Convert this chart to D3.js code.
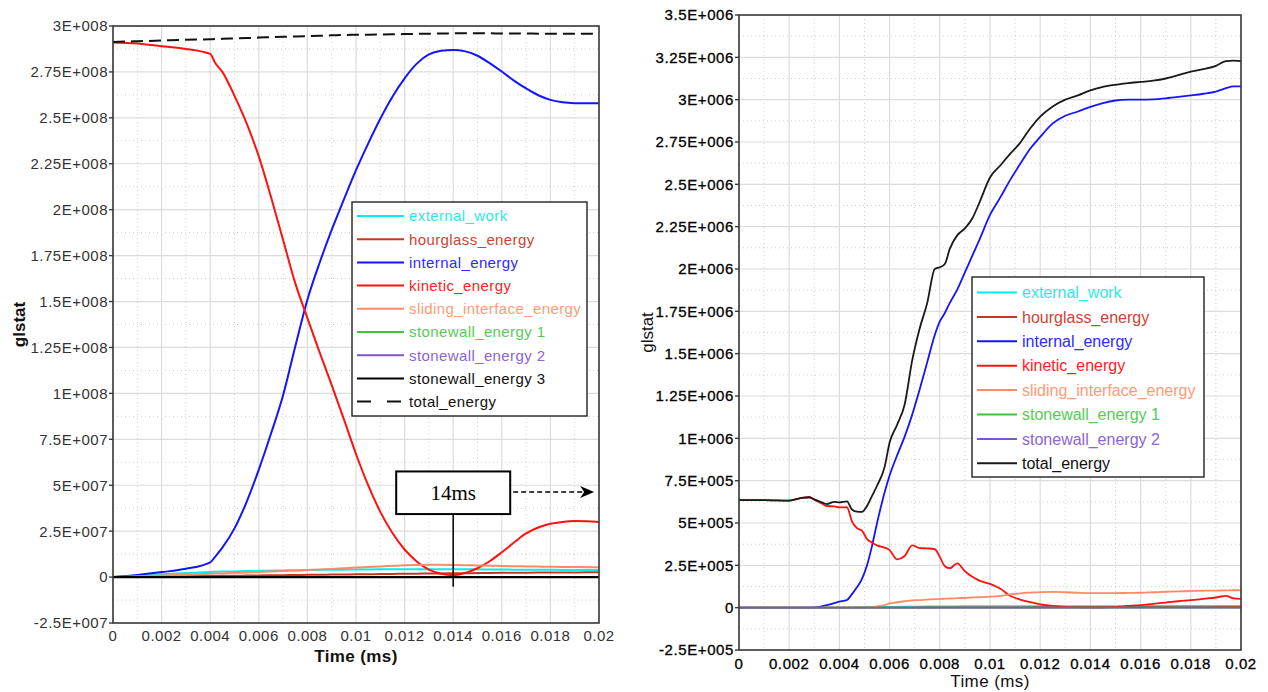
<!DOCTYPE html>
<html><head><meta charset="utf-8">
<script src="https://cdn.jsdelivr.net/npm/d3@7"></script>
<style>
html,body{margin:0;padding:0;background:#fff;}
svg{display:block;font-family:"Liberation Sans",Arial,sans-serif;}
</style></head>
<body><svg id="c" width="1268" height="692"></svg>
<script>
// ---------------- DATA ----------------
const seriesNames = ["external_work","hourglass_energy","internal_energy","kinetic_energy","sliding_interface_energy","stonewall_energy 1","stonewall_energy 2","stonewall_energy 3","total_energy"];
const seriesColors = ["#00eeee","#cc3322","#1414ff","#ff1111","#ff8a66","#44c044","#7a55cc","#000000","#111111"];
const legendTextColors = ["#33e6e6","#cc4433","#2b2bff","#ff2222","#ff9a77","#55cc55","#8a66d6","#111111","#111111"];

const timeEnds = [0, 0.02];
const yTicksLeft = [-2.5e7,0,2.5e7,5e7,7.5e7,1e8,1.25e8,1.5e8,1.75e8,2e8,2.25e8,2.5e8,2.75e8,3e8];
const yTickLabelsLeft = ["-2.5E+007","0","2.5E+007","5E+007","7.5E+007","1E+008","1.25E+008","1.5E+008","1.75E+008","2E+008","2.25E+008","2.5E+008","2.75E+008","3E+008"];
const yTicksRight = [-2.5e5,0,2.5e5,5e5,7.5e5,1e6,1.25e6,1.5e6,1.75e6,2e6,2.25e6,2.5e6,2.75e6,3e6,3.25e6,3.5e6];
const yTickLabelsRight = ["-2.5E+005","0","2.5E+005","5E+005","7.5E+005","1E+006","1.25E+006","1.5E+006","1.75E+006","2E+006","2.25E+006","2.5E+006","2.75E+006","3E+006","3.25E+006","3.5E+006"];
const xTicks = [0,0.002,0.004,0.006,0.008,0.01,0.012,0.014,0.016,0.018,0.02];
const xTickLabels = ["0","0.002","0.004","0.006","0.008","0.01","0.012","0.014","0.016","0.018","0.02"];

// Left chart (values in units of 1e6)
const timeL = [0,0.001,0.002,0.003,0.004,0.0042,0.0045,0.005,0.0055,0.006,0.0065,0.007,0.0075,0.008,0.0085,0.009,0.0095,0.01,0.0105,0.011,0.0115,0.012,0.0125,0.013,0.0135,0.014,0.0145,0.015,0.0155,0.016,0.0165,0.017,0.0175,0.018,0.0185,0.019,0.0195,0.02];
const externalL = [0,0.9,1.6,2.2,2.8,2.9,3.0,3.1,3.3,3.4,3.5,3.6,3.7,3.8,3.9,4.0,4.05,4.1,4.15,4.2,4.25,4.3,4.3,4.3,4.3,4.3,4.25,4.2,4.15,4.1,4.05,4.0,4.0,3.95,3.9,3.9,3.9,3.9];
const hourglassL = [0,0.15,0.3,0.45,0.6,0.63,0.68,0.75,0.82,0.9,0.97,1.05,1.12,1.2,1.27,1.35,1.42,1.5,1.57,1.65,1.72,1.8,1.86,1.93,2.0,2.06,2.12,2.18,2.24,2.3,2.35,2.4,2.44,2.48,2.52,2.55,2.58,2.6];
const internalL = [0,1.2,2.7,4.5,8,11,16,26.5,41,58.5,78,99,125.5,151,171,189,205.5,221.5,236,249.5,261.5,271.5,279.5,284.5,286.5,287,286.2,283.8,279.8,275.2,270.3,266,262.3,259.8,258.5,258,257.9,257.9];
const kineticL = [291,290.5,289,287.5,284.8,280,275,262,247,229,207,183.5,160,141,122.5,104.5,86,67,50,35.5,24,15,8.5,4,1.8,1,2.3,4.8,8.6,13.5,18.8,23.8,27,29,30,30.5,30.4,30];
const slidingL = [0,0.4,0.8,1.3,1.8,1.9,2.0,2.3,2.5,2.8,3.0,3.3,3.5,3.8,4.1,4.4,4.8,5.2,5.5,5.8,6.1,6.4,6.6,6.7,6.7,6.6,6.5,6.3,6.2,6.0,5.9,5.8,5.7,5.6,5.5,5.5,5.4,5.4];
const stonewall1L = [0,0];
const stonewall2L = [0,0];
const stonewall3L = [0,0];
const totalL = [291.3,291.7,292.1,292.5,292.8,292.9,293.0,293.2,293.4,293.7,293.9,294.1,294.3,294.5,294.7,294.9,295.1,295.2,295.3,295.4,295.5,295.6,295.7,295.8,295.9,296,296,296,296,295.9,295.9,295.9,295.8,295.8,295.8,295.8,295.8,295.8];

// Right chart (values in units of 1e3)
const timeR = [0,0.001,0.002,0.0025,0.0028,0.003,0.0033,0.0035,0.0038,0.004,0.0043,0.0045,0.0047,0.0049,0.0051,0.0053,0.0055,0.0058,0.006,0.0063,0.0066,0.0069,0.0072,0.0075,0.0078,0.008,0.0082,0.0084,0.0087,0.009,0.0093,0.0096,0.01,0.0104,0.0108,0.0112,0.0116,0.012,0.0125,0.013,0.0135,0.014,0.0145,0.015,0.0155,0.016,0.0165,0.017,0.0175,0.018,0.0185,0.019,0.0194,0.0197,0.02];
const externalR = [0,0,0,0,0,0,0,0,0,0,0.5,1,1.5,2,2.5,3,3.5,4,4.5,5,5.5,6,6.5,7,7.5,8,8,8,8.2,8.4,8.5,8.6,8.8,9,9,9,9.1,9.2,9.3,9.4,9.5,9.5,9.6,9.6,9.7,9.7,9.8,9.8,9.8,9.9,9.9,10,10,10,10];
const hourglassR = [0,0,0,0,0,0,0,0,0,0,0,0.1,0.1,0.2,0.2,0.3,0.3,0.4,0.5,0.6,0.7,0.8,0.9,1,1.1,1.2,1.3,1.4,1.5,1.6,1.7,1.8,1.9,2,2.1,2.2,2.3,2.4,2.5,2.6,2.7,2.8,2.9,3,3.1,3.2,3.3,3.4,3.5,3.6,3.7,3.8,3.9,4,4];
const internalR = [0,0,0,0,0,2,8,15,27,35,45,80,120,170,250,365,500,680,780,900,1010,1140,1290,1450,1610,1690,1740,1800,1880,1980,2080,2180,2320,2420,2525,2620,2710,2780,2860,2905,2930,2958,2980,2995,3000,3000,3002,3008,3016,3025,3035,3048,3068,3078,3078];
const kineticR = [635,635,632,648,652,638,615,600,598,592,593,510,470,455,405,385,368,355,340,285,305,368,352,350,345,300,245,233,262,215,182,158,140,113,70,48,32,20,10,4,2,1,1,5,10,15,23,30,38,44,52,60,70,55,52];
const slidingR = [0,0,0,0,0,0,0,0,0,0,0,0,0,0,0,3,8,15,25,32,38,43,45,48,50,52,53,54,56,58,60,62,65,70,78,85,89,92,93,91,88,86,86,86,87,88,91,94,96,98,100,101,102,103,103];
const stonewall1R = [0,0];
const stonewall2R = [0,0];
const totalR = [635,635,632,648,652,640,622,612,625,622,628,580,567,566,600,660,720,830,975,1080,1200,1460,1650,1800,2000,2010,2030,2120,2200,2240,2300,2400,2540,2610,2680,2745,2830,2900,2960,3000,3025,3055,3075,3088,3098,3105,3112,3125,3145,3165,3180,3200,3228,3230,3228];

// ---------------- DRAW ----------------
const svg = d3.select("#c");

function drawChart(cfg){
  const g = svg.append("g");
  const x = d3.scaleLinear().domain([0,0.02]).range([cfg.x0,cfg.x1]);
  const y = d3.scaleLinear().domain([cfg.yMin,cfg.yMax]).range([cfg.y1,cfg.y0]);
  const minorX = d3.range(0.001,0.02,0.002);
  const step = cfg.yTicks[1]-cfg.yTicks[0];
  const minorY = cfg.yTicks.slice(0,-1).map(v=>v+step/2);
  g.selectAll(".mx").data(minorX).join("line")
    .attr("x1",d=>x(d)).attr("x2",d=>x(d)).attr("y1",cfg.y0).attr("y2",cfg.y1)
    .attr("stroke","#cfcfcf").attr("stroke-dasharray","1,3").attr("stroke-width",1);
  g.selectAll(".my").data(minorY).join("line")
    .attr("x1",cfg.x0).attr("x2",cfg.x1).attr("y1",d=>y(d)).attr("y2",d=>y(d))
    .attr("stroke","#cfcfcf").attr("stroke-dasharray","1,3").attr("stroke-width",1);
  g.selectAll(".gx").data(xTicks).join("line")
    .attr("x1",d=>x(d)).attr("x2",d=>x(d)).attr("y1",cfg.y0).attr("y2",cfg.y1)
    .attr("stroke","#dcdcdc").attr("stroke-width",1.2);
  g.selectAll(".gy").data(cfg.yTicks).join("line")
    .attr("x1",cfg.x0).attr("x2",cfg.x1).attr("y1",d=>y(d)).attr("y2",d=>y(d))
    .attr("stroke","#dcdcdc").attr("stroke-width",1.2);

  const clipId = "clip"+cfg.id;
  svg.append("clipPath").attr("id",clipId).append("rect")
    .attr("x",cfg.x0).attr("y",cfg.y0).attr("width",cfg.x1-cfg.x0).attr("height",cfg.y1-cfg.y0);
  const lines = g.append("g").attr("clip-path","url(#"+clipId+")");
  cfg.series.forEach(s=>{
    const pts = s.t.map((t,i)=>[t,s.v[i]*cfg.unit]);
    const line = d3.line().x(d=>x(d[0])).y(d=>y(d[1])).curve(cfg.curve);
    lines.append("path").attr("d",line(pts)).attr("fill","none")
      .attr("stroke",s.color).attr("stroke-width",s.width||cfg.lw)
      .attr("stroke-dasharray",s.dash||null)
      .attr("stroke-linejoin","round");
  });

  g.append("rect").attr("x",cfg.x0).attr("y",cfg.y0).attr("width",cfg.x1-cfg.x0).attr("height",cfg.y1-cfg.y0)
    .attr("fill","none").attr("stroke","#3a3a3a").attr("stroke-width",1.6);

  g.selectAll(".yt").data(cfg.yTicks).join("line")
    .attr("x1",cfg.x0-4).attr("x2",cfg.x0).attr("y1",d=>y(d)).attr("y2",d=>y(d))
    .attr("stroke","#3a3a3a").attr("stroke-width",1.4);
  g.selectAll(".yl").data(cfg.yTicks).join("text")
    .attr("x",cfg.x0-5).attr("y",d=>y(d)).attr("dy","0.36em")
    .attr("text-anchor","end").attr("font-size",cfg.tickFont).attr("letter-spacing",cfg.tickSpacing)
    .attr("fill",cfg.tickColor).attr("stroke",cfg.tickStroke||null).attr("stroke-width",cfg.tickStroke?0.3:null)
    .text((d,i)=>cfg.yLabels[i]);
  g.selectAll(".xl").data(xTicks).join("text")
    .attr("x",d=>x(d)).attr("y",cfg.y1+cfg.xLabelOffset).attr("dy","0.36em")
    .attr("text-anchor","middle").attr("font-size",cfg.tickFont).attr("letter-spacing",cfg.tickSpacing)
    .attr("fill",cfg.tickColor).attr("stroke",cfg.tickStroke||null).attr("stroke-width",cfg.tickStroke?0.3:null)
    .text((d,i)=>xTickLabels[i]);

  g.append("text").attr("transform",`translate(${cfg.yTitleX},${(cfg.y0+cfg.y1)/2}) rotate(-90)`)
    .attr("text-anchor","middle").attr("dy","0.36em").attr("font-size",cfg.titleFont)
    .attr("font-weight",cfg.titleWeight).attr("fill","#111").text("glstat");
  g.append("text").attr("x",(cfg.x0+cfg.x1)/2).attr("y",cfg.xTitleY).attr("dy","0.36em")
    .attr("text-anchor","middle").attr("font-size",cfg.titleFont).attr("letter-spacing",0.4)
    .attr("font-weight",cfg.titleWeight).attr("fill","#111").text("Time (ms)");

  const L = cfg.legend;
  const lg = g.append("g");
  lg.append("rect").attr("x",L.x).attr("y",L.y).attr("width",L.w).attr("height",L.h)
    .attr("fill","#fff").attr("stroke","#222").attr("stroke-width",1.4);
  cfg.series.forEach((s,i)=>{
    const yy = L.y + L.first + i*L.gap;
    lg.append("line").attr("x1",L.x+L.lx0).attr("x2",L.x+L.lx1).attr("y1",yy).attr("y2",yy)
      .attr("stroke",s.color).attr("stroke-width",2).attr("stroke-dasharray",s.legendDash||null);
    lg.append("text").attr("x",L.x+L.tx).attr("y",yy).attr("dy","0.36em")
      .attr("font-size",L.font).attr("letter-spacing",L.spacing).attr("fill",s.textColor).text(s.name);
  });
  return {x,y,g};
}

const leftSeries = [
  {t:timeL,v:externalL},{t:timeL,v:hourglassL},{t:timeL,v:internalL},{t:timeL,v:kineticL},
  {t:timeL,v:slidingL},{t:timeEnds,v:stonewall1L},{t:timeEnds,v:stonewall2L},
  {t:timeEnds,v:stonewall3L,width:2.4},{t:timeL,v:totalL,dash:"12,6",legendDash:"14,16"}
].map((s,i)=>Object.assign(s,{name:seriesNames[i],color:seriesColors[i],textColor:legendTextColors[i]}));

const rightIdx = [0,1,2,3,4,5,6,8];
const rightVals = [
  {t:timeR,v:externalR},{t:timeR,v:hourglassR},{t:timeR,v:internalR},{t:timeR,v:kineticR},
  {t:timeR,v:slidingR},{t:timeEnds,v:stonewall1R},{t:timeEnds,v:stonewall2R},{t:timeR,v:totalR}
];
const rightSeries = rightVals.map((s,k)=>Object.assign(s,{name:seriesNames[rightIdx[k]],
  color:rightIdx[k]===8?"#1a1a1a":seriesColors[rightIdx[k]],textColor:legendTextColors[rightIdx[k]]}));

const left = drawChart({id:"L",x0:113,x1:599,y0:26,y1:623,yMin:-2.5e7,yMax:3e8,unit:1e6,
  yTicks:yTicksLeft,yLabels:yTickLabelsLeft,tickFont:"15px",tickSpacing:0.5,tickColor:"#333",
  xLabelOffset:13,yTitleX:19,xTitleY:656,titleFont:"17px",titleWeight:"bold",lw:2,
  curve:d3.curveMonotoneX,series:leftSeries,
  legend:{x:352,y:202,w:235,h:214,first:14,gap:23.2,lx0:5,lx1:52,tx:57,font:"15px",spacing:0.4}});

const right = drawChart({id:"R",x0:739,x1:1241,y0:15,y1:650,yMin:-2.5e5,yMax:3.5e6,unit:1e3,
  yTicks:yTicksRight,yLabels:yTickLabelsRight,tickFont:"15px",tickSpacing:0.6,tickColor:"#000",tickStroke:"#000",
  xLabelOffset:14,yTitleX:647,xTitleY:681,titleFont:"17px",titleWeight:"normal",lw:1.8,
  curve:d3.curveMonotoneX,series:rightSeries,
  legend:{x:972,y:277,w:232,h:200,first:15.5,gap:24.4,lx0:5,lx1:45,tx:50,font:"16px",spacing:0}});

// annotation on left chart
const annotTime = 0.014;
const annotLabel = "14ms";
(function(){
  const {x,y,g} = left;
  const cx = x(annotTime);
  const top = y(5.75e7), bot = y(3.43e7);
  const bw = 114;
  g.append("line").attr("x1",cx).attr("x2",cx).attr("y1",bot).attr("y2",y(-5.3e6))
    .attr("stroke","#000").attr("stroke-width",1.5);
  g.append("rect").attr("x",cx-bw/2).attr("y",top).attr("width",bw).attr("height",bot-top)
    .attr("fill","#fff").attr("stroke","#000").attr("stroke-width",2);
  g.append("text").attr("x",cx).attr("y",(top+bot)/2).attr("dy","0.35em").attr("text-anchor","middle")
    .attr("font-family","'Liberation Serif','Times New Roman',serif").attr("font-size","21px")
    .attr("fill","#000").text(annotLabel);
  const ay = y(4.63e7);
  const ax0 = cx+bw/2+3, ax1 = x(0.0198);
  g.append("line").attr("x1",ax0).attr("x2",ax1-6).attr("y1",ay).attr("y2",ay)
    .attr("stroke","#000").attr("stroke-width",1.6).attr("stroke-dasharray","5,3");
  g.append("path").attr("d",`M${ax1-14},${ay-6} L${ax1},${ay} L${ax1-14},${ay+6} L${ax1-10},${ay} Z`)
    .attr("fill","#000");
})();
</script></body></html>
